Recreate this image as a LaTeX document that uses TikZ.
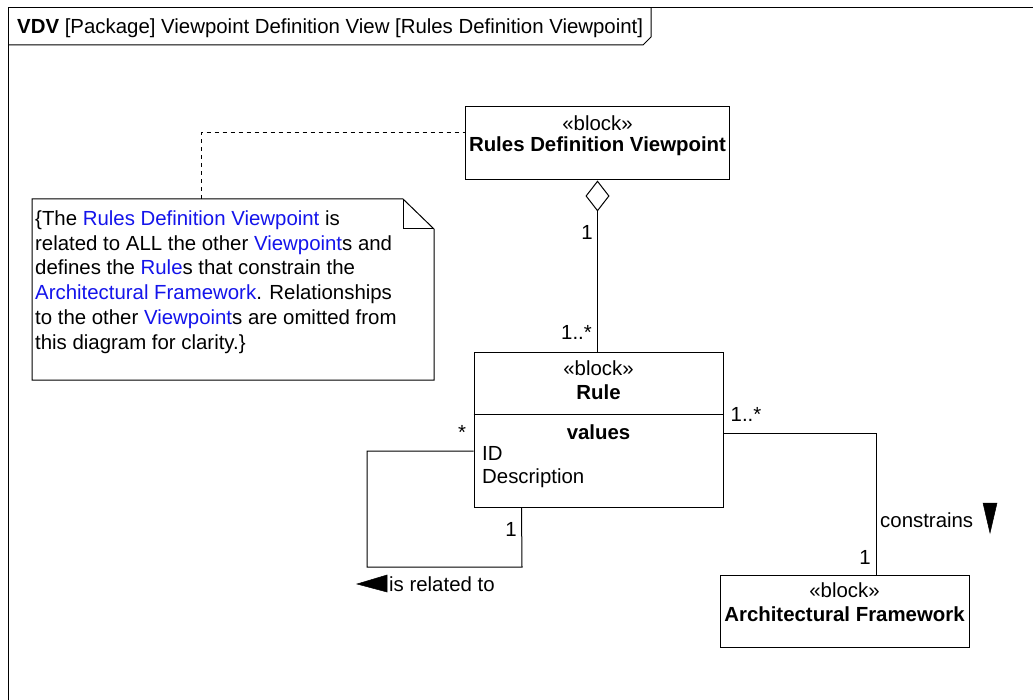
\documentclass[tikz,border=0pt]{standalone}
\usepackage{fontspec}
\setmainfont{Liberation Sans}
\usetikzlibrary{calc,arrows.meta}
\definecolor{lnkblue}{RGB}{20,20,235}
\newcommand\lnkt[1]{\textcolor{lnkblue}{#1}}
\begin{document}
\begin{tikzpicture}[x=1pt,y=-1pt,
  every node/.style={inner sep=0pt, font=\fontsize{20.4}{24.7}\selectfont},
  blk/.style={draw, line width=1pt, fill=white},
  ln/.style={line width=1pt},
  bld/.style={font=\fontsize{20.4}{24.7}\selectfont\bfseries},
  tri/.style={fill=black, draw=black, line width=0.5pt}]
\useasboundingbox (0,0) rectangle (1033,700);
\clip (0,0) rectangle (1033,700);
% frame and tab
\draw[ln] (8,720) -- (8,8) -- (1045,8);
\draw[ln] (8,45) -- (643,45) -- (651,37) -- (651,8);
\node[anchor=base west] (title) at (17,34) {\textbf{VDV} [Package] Viewpoint Definition View [Rules Definition Viewpoint]};

% Rules Definition Viewpoint
\node[blk, minimum width=264, minimum height=73] (rdv) at (597.5,143.5) {};
\node (rdvs) at (597.5,123) {«block»};
\node[bld] (rdvn) at (597.5,146) {Rules Definition Viewpoint};

% Rule
\node[blk, minimum width=249, minimum height=154] (rule) at (598.5,430) {};
\draw[ln] ($(rule.north west)+(0,62)$) -- ($(rule.north east)+(0,62)$);
\node (rules) at (598.5,368) {«block»};
\node[bld] (rulen) at (598.5,392) {Rule};
\node[bld] (rulev) at (598.5,432) {values};
\node[anchor=west] (ruleid) at (482,453) {ID};
\node[anchor=west] (ruled) at (482,478) {Description};

% Architectural Framework
\node[blk, minimum width=249, minimum height=72] (af) at (844.5,611) {};
\node (afs) at (844.5,590) {«block»};
\node[bld] (afn) at (844.5,614) {Architectural Framework};

% Note
\draw[ln, fill=white] (32,199) -- (403,199) -- (434,229) -- (434,380) -- (32,380) -- cycle;
\draw[ln] (403,199) -- (403,229) -- (434,229);
\coordinate (notetop) at (201,199);
\node[anchor=base west, align=left] (note) at (35,349) {\{The \lnkt{Rules Definition Viewpoint} is\\
related to ALL the other \lnkt{Viewpoint}s and\\
defines the \lnkt{Rule}s that constrain the\\
\lnkt{Architectural Framework}. Relationships\\
to the other \lnkt{Viewpoint}s are omitted from\\
this diagram for clarity.\}};
\draw[line width=0.8pt, dash pattern=on 4pt off 4pt] (notetop) |- ($(rdv.west)+(0,-11)$);

% aggregation
\draw[ln, {Diamond[open, length=31pt, width=24pt, line width=1pt]}-] (rdv.south) -- (rdv.south |- rule.north);
\node (m1) at (587,232) {1};
\node[anchor=base east] (m2) at (592,340) {1..*};

% self association
\coordinate (sl1) at (367,451);
\coordinate (sl2) at (522,567);
\draw[ln] ($(rule.west)+(0,21)$) -| (sl1) |- (sl2) -- ($(rule.south west)+(48,0)$);
\node (m3) at (462,432) {*};
\node (m4) at (511,529) {1};
\node[anchor=west] (rel) at (389,584) {is related to};
\draw[tri] ($(rel.west)+(-32,0)$) -- ($(rel.west)+(-2,-9)$) -- ($(rel.west)+(-2,8)$) -- cycle;

% constrains
\draw[ln] ($(rule.east)+(0,3)$) -| ($(af.north)+(31.5,0)$);
\node (m5) at (746,414) {1..*};
\node (m6) at (865,557) {1};
\node[anchor=west] (con) at (880,520) {constrains};
\draw[tri] ($(con.west)+(103,-17)$) -- ($(con.west)+(117,-17)$) -- ($(con.west)+(110,13)$) -- cycle;
\end{tikzpicture}
\end{document}
